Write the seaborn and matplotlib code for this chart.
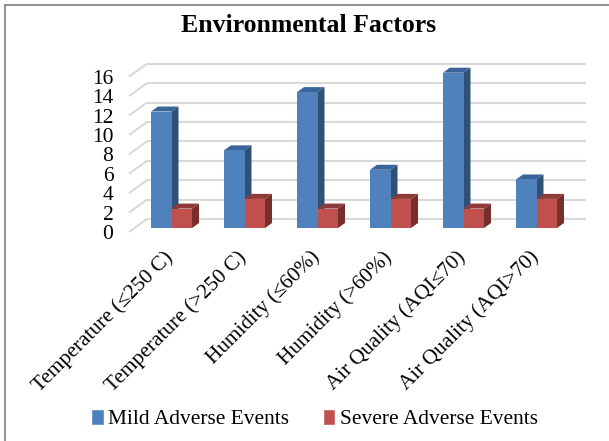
import matplotlib
matplotlib.use("Agg")
import matplotlib.pyplot as plt
import seaborn as sns
import pandas as pd
from matplotlib.patches import Polygon, Rectangle
from matplotlib.lines import Line2D
from matplotlib.transforms import ScaledTranslation

categories = ["Temperature (≤250 C)", "Temperature (>250 C)", "Humidity (≤60%)",
              "Humidity (>60%)", "Air Quality (AQI≤70)", "Air Quality (AQI>70)"]
mild = [12, 8, 14, 6, 16, 5]
severe = [2, 3, 2, 3, 2, 3]
series_names = ["Mild Adverse Events", "Severe Adverse Events"]
y_ticks = list(range(0, 17, 2))
title = "Environmental Factors"

W, H = 609, 441
dpi = 100
sns.set_theme(style="white")
plt.rcParams["font.family"] = ["Liberation Serif", "DejaVu Serif"]

df = pd.DataFrame({"cat": categories * 2,
                   "val": mild + severe,
                   "series": [series_names[0]] * 6 + [series_names[1]] * 6})

fig = plt.figure(figsize=(W / dpi, H / dpi), dpi=dpi)
# pixel geometry of the bar plane
x_left, x_right, y0_px, y16_px = 135, 573, 228, 72.7
ax = fig.add_axes([x_left / W, 1 - y0_px / H, (x_right - x_left) / W, (y0_px - y16_px) / H])
pal = {series_names[0]: "#4F81BD", series_names[1]: "#C0504D"}
sns.barplot(data=df, x="cat", y="val", hue="series", palette=pal, order=categories,
            hue_order=series_names, width=0.562, saturation=1, gap=0, ax=ax, legend=False,
            edgecolor="none", zorder=3)
ax.set_xlim(-0.5, 5.5)
ax.set_ylim(0, 16)
for s in ax.spines.values():
    s.set_visible(False)
ax.set_xlabel("")
ax.set_ylabel("")
ax.patch.set_alpha(0)

px_x = (x_right - x_left) / 6
px_y = (y0_px - y16_px) / 16
dx, dy = 7 / px_x, 5 / px_y                # bar depth in data units

# back wall gridlines and left wall slants
kw = dict(color="#D9D9D9", lw=1.5, clip_on=False, zorder=1, solid_capstyle="butt")
wall_front = -0.5 - 6 / px_x
wall_back = -0.5 + 12 / px_x
wall_right = 5.5 + 12.7 / px_x
for v in y_ticks:
    yb = v + 9 / px_y
    yf = v - 4 / px_y
    ax.plot([wall_back, wall_right], [yb, yb], **kw)
    ax.plot([wall_front, wall_back], [yf, yb], **kw)

# side and top faces of each bar
shades = {0: ("#2F5077", "#3A659A"), 1: ("#772F2D", "#8E3A38")}
for i, cont in enumerate(ax.containers):
    side, top = shades[i]
    for r in cont.patches:
        x0, x1, h = r.get_x(), r.get_x() + r.get_width(), r.get_height()
        ax.add_patch(Polygon([(x1, 0), (x1 + dx, dy), (x1 + dx, h + dy), (x1, h)],
                             fc=side, ec="none", zorder=2 + i, clip_on=False))
        ax.add_patch(Polygon([(x0, h), (x0 + dx, h + dy), (x1 + dx, h + dy), (x1, h)],
                             fc=top, ec="none", zorder=2 + i, clip_on=False))
        r.set_zorder(2.5 + i)

ax.set_yticks(y_ticks)
ax.tick_params(axis="y", length=0, pad=15.5, labelsize=15.5, labelcolor="black")
shift = ScaledTranslation(0, -4 / dpi, fig.dpi_scale_trans)
for lab in ax.get_yticklabels():
    lab.set_transform(lab.get_transform() + shift)

ax.set_xticks(range(6))
ax.set_xticklabels(categories, rotation=45, ha="right", rotation_mode="anchor",
                   fontsize=15.3, color="black")
ax.tick_params(axis="x", length=0, pad=14)
xshift = ScaledTranslation(-8 / dpi, 0, fig.dpi_scale_trans)
for lab in ax.get_xticklabels():
    lab.set_transform(lab.get_transform() + xshift)

fig.text(309 / W, 1 - 25.5 / H, title, ha="center", va="center", fontsize=18.5,
         fontweight="bold", color="black")

# legend
handles = [Rectangle((0, 0), 1, 1, fc=pal[n]) for n in series_names]
fig.legend(handles, series_names, loc="center", bbox_to_anchor=(314.5 / W, 1 - 419 / H),
           ncol=2, frameon=False, fontsize=15.4, handlelength=0.6, handleheight=0.78,
           handletextpad=0.2, columnspacing=1.55, labelcolor="black")

# chart frame: only the top and left edges show in the crop
frame = dict(color="#7F7F7F", lw=1.2, transform=fig.transFigure)
fig.add_artist(Line2D([4.5 / W, 1], [1 - 4.5 / H, 1 - 4.5 / H], **frame))
fig.add_artist(Line2D([4.5 / W, 4.5 / W], [0, 1 - 4.5 / H], **frame))
fig.savefig("out.png", dpi=dpi)
